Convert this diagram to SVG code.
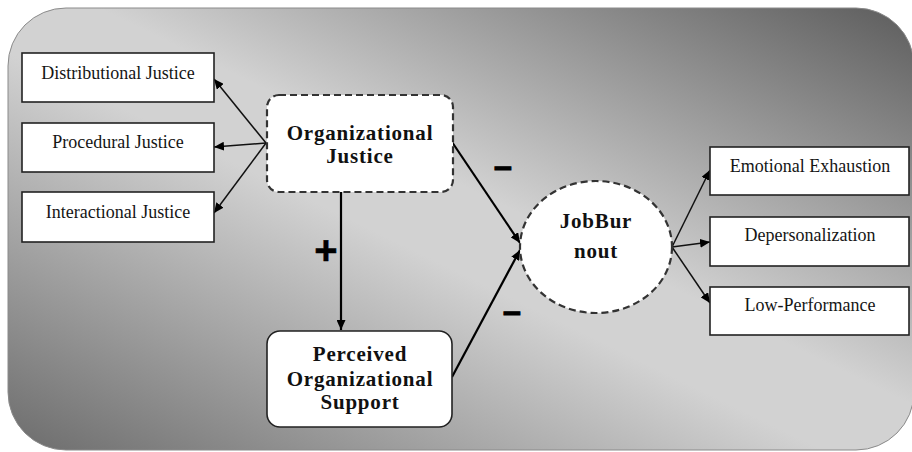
<svg xmlns="http://www.w3.org/2000/svg" width="912" height="452" viewBox="0 0 912 452">
  <defs>
    <linearGradient id="bg" x1="1" y1="0" x2="0" y2="1">
      <stop offset="0" stop-color="#5c5c5c"/>
      <stop offset="0.45" stop-color="#d2d2d2"/>
      <stop offset="0.55" stop-color="#d2d2d2"/>
      <stop offset="1" stop-color="#6c6c6c"/>
    </linearGradient>
    <marker id="ah" markerUnits="userSpaceOnUse" markerWidth="11" markerHeight="9" refX="10" refY="4.5" orient="auto">
      <path d="M0,0 L10,4.5 L0,9 z" fill="#000"/>
    </marker>
    <style>
      .box { fill: #fff; stroke: #222; stroke-width: 1.6; }
      .dash { fill: #fff; stroke: #333; stroke-width: 2.2; stroke-dasharray: 7 4; }
      .lbl { font-family: "Liberation Serif", "Times New Roman", serif; font-size: 18px; fill: #151515; text-anchor: middle; }
      .big { font-family: "Liberation Serif", "Times New Roman", serif; font-size: 21px; font-weight: bold; letter-spacing: 0.8px; fill: #111; text-anchor: middle; }
      .sign { font-family: "Liberation Sans", Arial, sans-serif; font-weight: bold; fill: #000; stroke: #000; text-anchor: middle; }
      .thin { stroke: #111; stroke-width: 1.5; fill: none; marker-end: url(#ah); }
      .thick { stroke: #000; stroke-width: 2.2; fill: none; marker-end: url(#ah); }
    </style>
  </defs>

  <rect id="background" x="8" y="8" width="906" height="442" rx="58" ry="58" fill="url(#bg)" stroke="#8a8a8a" stroke-width="1"/>

  <g id="connectors">
    <line class="thin" x1="266" y1="143" x2="214" y2="79"/>
    <line class="thin" x1="266" y1="143" x2="214" y2="147"/>
    <line class="thin" x1="266" y1="143" x2="214" y2="213"/>
    <line class="thick" x1="341" y1="192" x2="341" y2="330"/>
    <line class="thick" x1="452" y1="142" x2="520" y2="243"/>
    <line class="thick" x1="452" y1="377" x2="520" y2="250"/>
    <line class="thin" x1="672" y1="247" x2="710" y2="170"/>
    <line class="thin" x1="672" y1="247" x2="710" y2="242"/>
    <line class="thin" x1="672" y1="247" x2="710" y2="303"/>
    <text class="sign" x="326" y="264" font-size="40" stroke-width="0.5">+</text>
    <text class="sign" x="503" y="177" font-size="32" stroke-width="1.2">–</text>
    <text class="sign" x="512" y="322" font-size="32" stroke-width="1.2">–</text>
  </g>

  <g id="distributional">
    <rect class="box" x="22" y="53" width="192" height="49"/>
    <text class="lbl" x="118" y="79">Distributional Justice</text>
  </g>
  <g id="procedural">
    <rect class="box" x="22" y="123" width="192" height="49"/>
    <text class="lbl" x="118" y="148">Procedural Justice</text>
  </g>
  <g id="interactional">
    <rect class="box" x="22" y="192" width="192" height="50"/>
    <text class="lbl" x="118" y="218">Interactional  Justice</text>
  </g>

  <g id="organizational-justice">
    <rect class="dash" x="267" y="95" width="186" height="97" rx="12" ry="12"/>
    <text class="big" x="360" y="140">Organizational</text>
    <text class="big" x="360" y="163">Justice</text>
  </g>

  <g id="perceived-support">
    <rect class="box" x="267" y="331" width="185" height="96" rx="13" ry="13"/>
    <text class="big" x="360" y="361">Perceived</text>
    <text class="big" x="360" y="386">Organizational</text>
    <text class="big" x="360" y="409">Support</text>
  </g>

  <g id="job-burnout">
    <ellipse class="dash" cx="596" cy="247" rx="76" ry="66"/>
    <text class="big" x="596" y="228">JobBur</text>
    <text class="big" x="596" y="258">nout</text>
  </g>

  <g id="emotional-exhaustion">
    <rect class="box" x="710" y="147" width="199" height="48"/>
    <text class="lbl" x="810" y="172">Emotional Exhaustion</text>
  </g>
  <g id="depersonalization">
    <rect class="box" x="710" y="217" width="199" height="49"/>
    <text class="lbl" x="810" y="241">Depersonalization</text>
  </g>
  <g id="low-performance">
    <rect class="box" x="710" y="287" width="199" height="48"/>
    <text class="lbl" x="810" y="311">Low-Performance</text>
  </g>
</svg>
